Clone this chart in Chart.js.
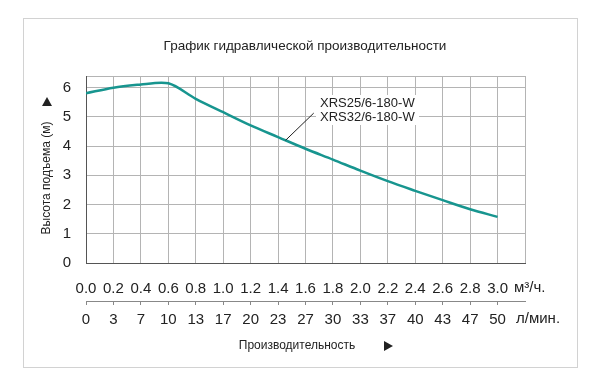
<!DOCTYPE html>
<html>
<head>
<meta charset="utf-8">
<script src="https://cdn.jsdelivr.net/npm/chart.js@4/dist/chart.umd.min.js"></script>
<style>
  html, body { margin: 0; padding: 0; background: #fff; }
  canvas { display: block; }
</style>
</head>
<body>
<canvas id="chart" width="600" height="376"></canvas>
<script>
(function() {

const TITLE = "График гидравлической производительности"
const Y_TITLE = "Высота подъема (м)"
const X_TITLE = "Производительность"
const MODELS = ["XRS25/6-180-W", "XRS32/6-180-W"]

// tick rows: m3/h on top, l/min underneath
const FLOW_M3H = ["0.0", "0.2", "0.4", "0.6", "0.8", "1.0", "1.2", "1.4", "1.6", "1.8", "2.0", "2.2", "2.4", "2.6", "2.8", "3.0"]
const FLOW_LMIN = ["0", "3", "7", "10", "13", "17", "20", "23", "27", "30", "33", "37", "40", "43", "47", "50"]
const UNIT_M3H = "м³/ч."
const UNIT_LMIN = "л/мин."
const HEAD_TICKS = [0, 1, 2, 3, 4, 5, 6]

// pump curve, flow in m3/h, head in m
const CURVE_Q = [0.0, 0.2, 0.4, 0.55, 0.6, 0.8, 1.0, 1.2, 1.4, 1.6, 1.8, 2.0, 2.2, 2.4, 2.6, 2.8, 3.0]
const CURVE_H = [5.81, 6.0, 6.11, 6.17, 6.15, 5.62, 5.16, 4.71, 4.31, 3.91, 3.54, 3.16, 2.8, 2.47, 2.15, 1.84, 1.58]

const X_MAX = 3.2
const Y_MAX = 6.4

const FONT = "'Liberation Sans', Arial, sans-serif"
const CURVE_COLOR = "#17958f"
const GRID_COLOR = "#b4b4b4"
const AXIS_COLOR = "#555"
const TEXT_COLOR = "#222"

const flowTicks = () => FLOW_M3H.map(v => ({ value: parseFloat(v) }))

const decor = {
  id: "decor",
  beforeDraw(chart) {
    const ctx = chart.ctx
    ctx.save()
    ctx.fillStyle = "#fff"
    ctx.fillRect(0, 0, chart.width, chart.height)
    ctx.strokeStyle = "#d2d2d2"
    ctx.lineWidth = 1
    ctx.strokeRect(23.5, 18.5, 554, 349)
    ctx.restore()
  },
  afterDraw(chart) {
    const ctx = chart.ctx
    const x = chart.scales.x
    const y = chart.scales.y
    ctx.save()
    ctx.fillStyle = TEXT_COLOR
    ctx.textAlign = "center"
    ctx.textBaseline = "middle"

    ctx.font = "13.5px " + FONT
    ctx.fillText(TITLE, 305, 46)

    // y title, rotated
    ctx.save()
    ctx.translate(47, 178)
    ctx.rotate(-Math.PI / 2)
    ctx.font = "12px " + FONT
    ctx.fillText(Y_TITLE, 0, 0)
    ctx.restore()

    // arrows
    ctx.beginPath()
    ctx.moveTo(47, 97); ctx.lineTo(52, 106); ctx.lineTo(42, 106); ctx.closePath()
    ctx.fill()
    ctx.font = "12px " + FONT
    ctx.fillText(X_TITLE, 297, 346)
    ctx.beginPath()
    ctx.moveTo(384, 341); ctx.lineTo(393, 346); ctx.lineTo(384, 351); ctx.closePath()
    ctx.fill()

    // units after the tick rows
    ctx.textAlign = "left"
    ctx.font = "15px " + FONT
    const rowTop = x.top + 17
    ctx.textBaseline = "top"
    ctx.fillText(UNIT_M3H, 514, rowTop)
    const x2 = chart.scales.x2
    ctx.fillText(UNIT_LMIN, 516, x2.top + 10)
    ctx.textBaseline = "middle"

    // model label with leader line
    const ax = x.getPixelForValue(1.455), ay = y.getPixelForValue(4.2)
    const bx = x.getPixelForValue(1.66), by = y.getPixelForValue(5.13)
    ctx.fillStyle = "#fff"
    ctx.fillRect(316, 95, 103, 30)
    ctx.strokeStyle = "#222"
    ctx.lineWidth = 1
    ctx.beginPath()
    ctx.moveTo(ax, ay)
    ctx.lineTo(bx, by)
    ctx.stroke()
    ctx.fillStyle = TEXT_COLOR
    ctx.font = "13px " + FONT
    ctx.fillText(MODELS[0], 320, 103)
    ctx.fillText(MODELS[1], 320, 117)
    ctx.restore()
  }
}

new Chart(document.getElementById("chart"), {
  type: "line",
  data: {
    datasets: [{
      data: CURVE_Q.map((q, i) => ({ x: q, y: CURVE_H[i] })),
      borderColor: CURVE_COLOR,
      borderWidth: 2.5,
      pointRadius: 0,
      fill: false,
      cubicInterpolationMode: "monotone",
    }]
  },
  options: {
    responsive: false,
    animation: false,
    devicePixelRatio: 1,
    layout: { padding: { left: 0, right: 75, top: 76, bottom: 35 } },
    plugins: {
      legend: { display: false },
      tooltip: { enabled: false },
      title: { display: false },
    },
    scales: {
      x: {
        type: "linear",
        position: "bottom",
        min: 0,
        max: X_MAX,
        afterBuildTicks: s => { s.ticks = flowTicks().concat([{ value: X_MAX }]) },
        afterFit: s => { s.height = 38 },
        grid: { color: GRID_COLOR, drawTicks: false },
        border: { color: AXIS_COLOR },
        ticks: {
          autoSkip: false, maxRotation: 0, minRotation: 0, padding: 17,
          color: TEXT_COLOR, font: { family: FONT, size: 15 },
          callback: (v, i) => i < FLOW_M3H.length ? FLOW_M3H[i] : "",
        },
      },
      x2: {
        type: "linear",
        position: "bottom",
        display: true,
        min: 0,
        max: X_MAX,
        afterBuildTicks: s => { s.ticks = flowTicks() },
        afterFit: s => { s.height = 40 },
        grid: { drawOnChartArea: false, drawTicks: true, tickLength: 4, color: "#888" },
        border: { color: "#888" },
        ticks: {
          autoSkip: false, maxRotation: 0, minRotation: 0, padding: 6,
          color: TEXT_COLOR, font: { family: FONT, size: 15 },
          callback: (v, i) => FLOW_LMIN[i],
        },
      },
      y: {
        type: "linear",
        min: 0,
        max: Y_MAX,
        afterBuildTicks: s => { s.ticks = HEAD_TICKS.map(v => ({ value: v })).concat([{ value: Y_MAX }]) },
        afterFit: s => { s.width = 86 },
        grid: { color: GRID_COLOR, drawTicks: false },
        border: { color: AXIS_COLOR },
        ticks: {
          padding: 15,
          color: TEXT_COLOR, font: { family: FONT, size: 15 },
          callback: (v, i) => i < HEAD_TICKS.length ? String(HEAD_TICKS[i]) : "",
        },
      },
    },
  },
  plugins: [decor],
})

}())
</script>
</body>
</html>
